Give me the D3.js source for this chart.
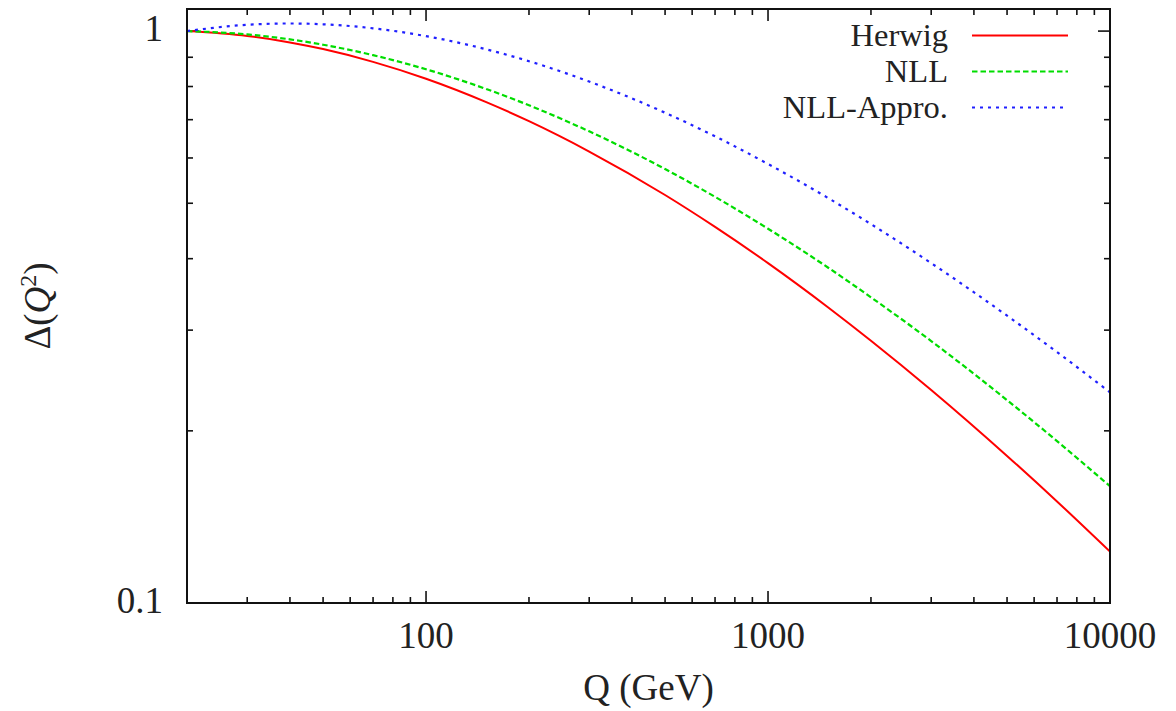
<!DOCTYPE html>
<html>
<head>
<meta charset="utf-8">
<script src="https://cdn.jsdelivr.net/npm/d3@7"></script>
<style>
  html, body { margin: 0; padding: 0; background: #fff; }
  svg { display: block; }
  text { font-family: "Liberation Serif", "DejaVu Serif", serif; fill: #222; }
</style>
</head>
<body>
<svg id="chart" width="1176" height="711"></svg>
<script>
// Sudakov form factor Δ(Q²) versus hard scale Q
const qValues      = [20, 30, 40, 50, 70, 100, 150, 200, 300, 500, 700, 1000, 1500, 2000, 3000, 5000, 7000, 10000];
const herwigValues = [1.000, 0.9806, 0.9554, 0.9301, 0.8835, 0.8254, 0.7513, 0.6958, 0.6158, 0.5169, 0.4546, 0.3929, 0.3287, 0.2875, 0.2358, 0.1808, 0.1505, 0.1230];
const nllValues    = [1.000, 0.9868, 0.9672, 0.9466, 0.9076, 0.8575, 0.7920, 0.7418, 0.6679, 0.5739, 0.5131, 0.4513, 0.3857, 0.3424, 0.2871, 0.2263, 0.1919, 0.1600];
const approxValues = [1.000, 1.0258, 1.0311, 1.0278, 1.0113, 0.9799, 0.9293, 0.8858, 0.8160, 0.7200, 0.6547, 0.5856, 0.5105, 0.4597, 0.3929, 0.3180, 0.2746, 0.2336];

const seriesNames = ["Herwig", "NLL", "NLL-Appro."];
const xTickLabels = ["100", "1000", "10000"];
const yTickLabels = ["0.1", "1"];

const series = [
  { name: seriesNames[0], values: herwigValues, color: "#ff0000", dash: null },
  { name: seriesNames[1], values: nllValues,    color: "#00dd00", dash: "5.5,3" },
  { name: seriesNames[2], values: approxValues, color: "#2020ff", dash: "3,5" }
];

const svg = d3.select("#chart");
const plotLeft = 187, plotRight = 1110, plotTop = 9, plotBottom = 603;
const fontSize = 37;
const legendFontSize = 32.5;

const x = d3.scaleLog().domain([20, 10000]).range([plotLeft, plotRight]);
const y = d3.scaleLog().domain([0.1, 1.093]).range([plotBottom, plotTop]);

// major and minor tick positions (log decades)
const xMajor = xTickLabels.map(Number);
const xMinor = [];
for (let d = 10; d <= 10000; d *= 10)
  for (let m = 2; m <= 9; m++) { const v = d * m; if (v >= 20 && v < 10000 && !xMajor.includes(v)) xMinor.push(v); }
const yMajor = yTickLabels.map(Number);
const yMinor = [0.2, 0.3, 0.4, 0.5, 0.6, 0.7, 0.8, 0.9];

const tickColor = "#111";
const axisG = svg.append("g");

// ticks are mirrored on all four sides of the frame
function drawTicks(scale, values, len, orient) {
  values.forEach(v => {
    const p = scale(v);
    if (orient === "x") {
      axisG.append("line").attr("x1", p).attr("x2", p).attr("y1", plotBottom).attr("y2", plotBottom - len)
        .attr("stroke", tickColor).attr("stroke-width", 1.6);
      axisG.append("line").attr("x1", p).attr("x2", p).attr("y1", plotTop).attr("y2", plotTop + len)
        .attr("stroke", tickColor).attr("stroke-width", 1.6);
    } else {
      axisG.append("line").attr("y1", p).attr("y2", p).attr("x1", plotLeft).attr("x2", plotLeft + len)
        .attr("stroke", tickColor).attr("stroke-width", 1.6);
      axisG.append("line").attr("y1", p).attr("y2", p).attr("x1", plotRight).attr("x2", plotRight - len)
        .attr("stroke", tickColor).attr("stroke-width", 1.6);
    }
  });
}
drawTicks(x, xMajor, 12, "x");
drawTicks(x, xMinor, 6, "x");
drawTicks(y, yMajor, 12, "y");
drawTicks(y, yMinor, 6, "y");

// tick labels
xTickLabels.forEach(t => {
  svg.append("text").attr("x", x(+t)).attr("y", 648).attr("text-anchor", "middle")
    .attr("font-size", fontSize).text(t);
});
yTickLabels.forEach(t => {
  svg.append("text").attr("x", 163).attr("y", y(+t) + 10).attr("text-anchor", "end")
    .attr("font-size", fontSize).text(t);
});

// curves
const line = d3.line()
  .x((d, i) => x(qValues[i]))
  .y(d => y(d))
  .curve(d3.curveMonotoneX);

const plotG = svg.append("g");
plotG.append("clipPath").attr("id", "clip").append("rect")
  .attr("x", plotLeft).attr("y", plotTop).attr("width", plotRight - plotLeft).attr("height", plotBottom - plotTop);

series.forEach(s => {
  plotG.append("path").datum(s.values)
    .attr("clip-path", "url(#clip)")
    .attr("d", line)
    .attr("fill", "none")
    .attr("stroke", s.color)
    .attr("stroke-width", s.dash ? 2.2 : 2)
    .attr("stroke-dasharray", s.dash);
});

// legend
const legendRows = [35.5, 71.5, 107.5];
series.forEach((s, i) => {
  svg.append("text").attr("x", 948).attr("y", legendRows[i] + 10).attr("text-anchor", "end")
    .attr("font-size", legendFontSize).text(s.name);
  svg.append("line").attr("x1", 972).attr("x2", 1068).attr("y1", legendRows[i]).attr("y2", legendRows[i])
    .attr("stroke", s.color).attr("stroke-width", s.dash ? 2.2 : 2).attr("stroke-dasharray", s.dash);
});

// frame
svg.append("rect").attr("x", plotLeft).attr("y", plotTop).attr("width", plotRight - plotLeft).attr("height", plotBottom - plotTop)
  .attr("fill", "none").attr("stroke", "#111").attr("stroke-width", 2);

// axis titles
svg.append("text").attr("x", (plotLeft + plotRight) / 2).attr("y", 700).attr("text-anchor", "middle")
  .attr("font-size", fontSize).text("Q (GeV)");

const yl = svg.append("text").attr("transform", `translate(50, ${(plotTop + plotBottom) / 2}) rotate(-90)`)
  .attr("text-anchor", "middle").attr("font-size", fontSize);
yl.append("tspan").text("Δ(");
yl.append("tspan").attr("font-style", "italic").text("Q");
yl.append("tspan").attr("font-size", 24).attr("dy", -14).text("2");
yl.append("tspan").attr("dy", 14).text(")");
</script>
</body>
</html>
